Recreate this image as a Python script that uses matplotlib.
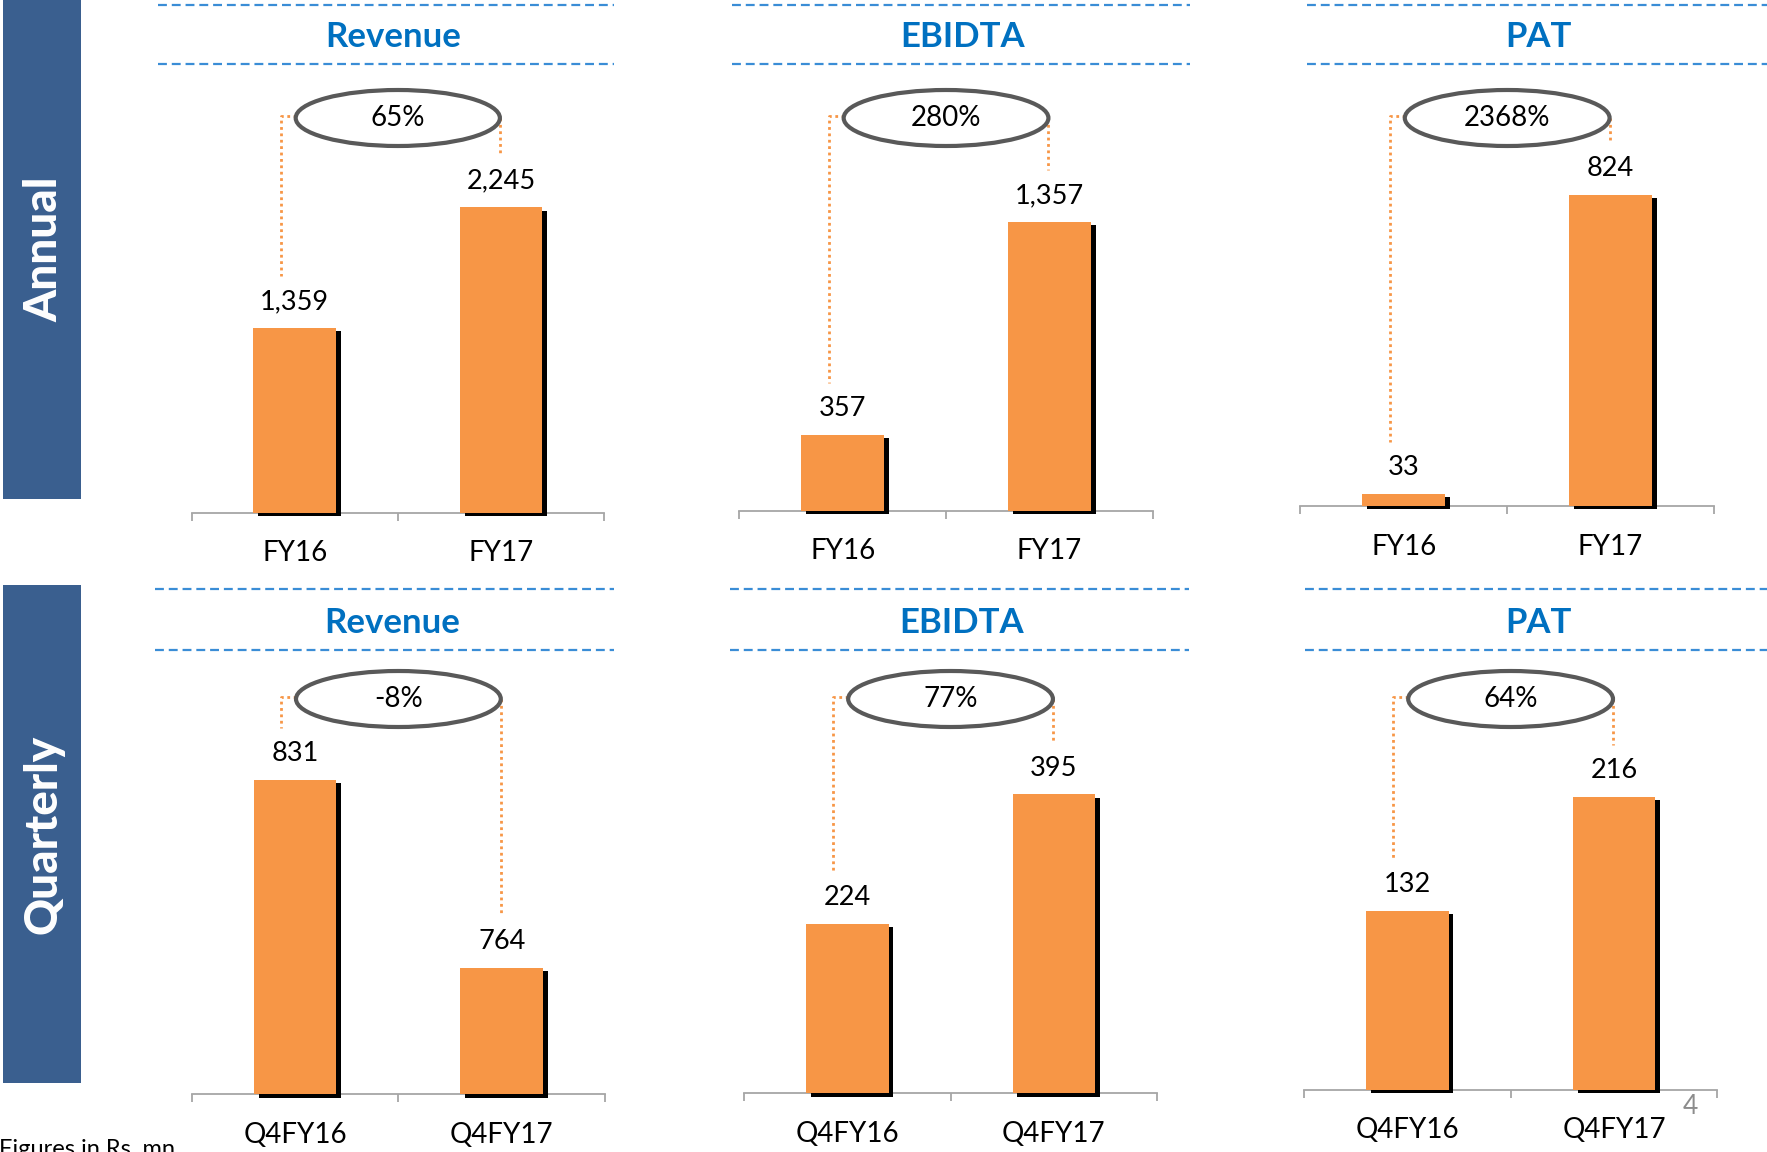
import matplotlib
matplotlib.use("Agg")
import matplotlib.pyplot as plt
import matplotlib.patheffects as pe
from matplotlib.patches import Ellipse, Rectangle
import numpy as np

plt.rcParams['font.family'] = ['Lato', 'DejaVu Sans']

# figures in Rs. mn
annual_periods = ["FY16", "FY17"]
quarter_periods = ["Q4FY16", "Q4FY17"]
metrics = ["Revenue", "EBIDTA", "PAT"]
annual_revenue = [1359, 2245]
annual_ebidta = [357, 1357]
annual_pat = [33, 824]
quarter_revenue = [831, 764]
quarter_ebidta = [224, 395]
quarter_pat = [132, 216]
annual_growth = ["65%", "280%", "2368%"]
quarter_growth = ["-8%", "77%", "64%"]

W, H = 1767, 1152
ORANGE = "#F79646"
BLUE = "#0070C0"
DASH_BLUE = "#3A8DD6"
PANEL = "#3A5F8F"
GREY = "#A6A6A6"

fig = plt.figure(figsize=(W / 100, H / 100), dpi=100)
fig.patch.set_facecolor("white")

bg = fig.add_axes([0, 0, 1, 1])
bg.set_xlim(0, W)
bg.set_ylim(H, 0)
bg.axis("off")

# side panels
for y0, y1, name in [(0, 499, "Annual"), (585, 1083, "Quarterly")]:
    bg.add_patch(Rectangle((3, y0), 78, y1 - y0, color=PANEL, lw=0))
    bg.text(44, (y0 + y1) / 2, name, rotation=90, ha="center", va="center",
            color="white", fontsize=33, fontweight="black")

# chart boxes: (axis left, axis right, baseline) in pixels, y floor, y ceiling
rows = [
    dict(periods=annual_periods, growth=annual_growth, ell_y=118,
         head=(4.5, 37, 64),
         cols=[(annual_revenue, 191.6, 604.0, 512.7, 0, 2426),
               (annual_ebidta, 739.3, 1152.8, 510.5, 0, 1552),
               (annual_pat, 1300.4, 1714.0, 506.0, 0, 874)],
         heads=[(158, 614, 393), (732, 1190, 963), (1307, 1767, 1538)]),
    dict(periods=quarter_periods, growth=quarter_growth, ell_y=699,
         head=(589, 623, 650),
         cols=[(quarter_revenue, 191.6, 605.2, 1094.2, 719, 836.6),
               (quarter_ebidta, 743.8, 1157.3, 1093.1, 0, 436.5),
               (quarter_pat, 1303.8, 1717.4, 1089.7, 0, 243.4)],
         heads=[(155, 614, 392), (730, 1189, 962), (1305, 1767, 1538)]),
]

AX_H = 330

for row in rows:
    top_y, title_y, bot_y = row["head"]
    for (hx0, hx1, tx), metric in zip(row["heads"], metrics):
        for yy in (top_y, bot_y):
            bg.plot([hx0, hx1], [yy, yy], color=DASH_BLUE, lw=1.6,
                    dashes=(4, 2.2), solid_capstyle="butt")
        bg.text(tx, title_y, metric, ha="center", va="center", color=BLUE,
                fontsize=25, fontweight="bold")

    for (vals, x0, x1, base, ymin, ymax), growth in zip(row["cols"], row["growth"]):
        ax = fig.add_axes([x0 / W, (H - base) / H, (x1 - x0) / W, AX_H / H])
        ax.patch.set_alpha(0)
        ax.set_xlim(-0.5, 1.5)
        ax.set_ylim(ymin, ymax)
        xs = np.arange(len(vals))
        ax.bar(xs, np.array(vals) - ymin, bottom=ymin, width=0.40,
               color=ORANGE, clip_on=False, zorder=3,
               path_effects=[pe.SimplePatchShadow(offset=(3.5, -2.5),
                                                  shadow_rgbFace="black",
                                                  alpha=1.0),
                             pe.Normal()])
        for x, v in zip(xs, vals):
            ax.annotate(f"{v:,}", (x, v), xytext=(0, 19),
                        textcoords="offset points", ha="center", va="center",
                        fontsize=19.5, color="black")
        for s in ("top", "left", "right"):
            ax.spines[s].set_visible(False)
        ax.spines["bottom"].set_color(GREY)
        ax.spines["bottom"].set_linewidth(1.3)
        ax.set_yticks([])
        ax.set_xticks(xs, row["periods"])
        ax.set_xticks([-0.5, 0.5, 1.5], minor=True)
        ax.tick_params(axis="x", which="major", length=0, pad=20,
                       labelsize=20)
        ax.tick_params(axis="x", which="minor", length=6, width=1.3,
                       color=GREY)

        # growth bubble and dotted leaders
        pts = [ax.transData.transform((x, v)) for x, v in zip(xs, vals)]
        cx = [p[0] for p in pts]
        tops = [H - p[1] - 52 for p in pts]
        ey = row["ell_y"]
        ex = (cx[0] + cx[1]) / 2
        ew = cx[1] - cx[0] - 2
        lx = cx[0] - 14
        bg.plot([ex - ew / 2, lx, lx], [ey - 2, ey - 2, tops[0]],
                color=ORANGE, lw=2, linestyle=(0, (1, 1.3)), zorder=1)
        bg.plot([ex + ew / 2, ex + ew / 2], [ey, tops[1]],
                color=ORANGE, lw=2, linestyle=(0, (1, 1.3)), zorder=1)
        bg.add_patch(Ellipse((ex, ey), ew, 56, facecolor="white",
                             edgecolor="#595959", lw=3, zorder=2))
        bg.text(ex, ey, growth, ha="center", va="center", fontsize=20,
                zorder=3)

bg.text(175, 1156, "Figures in Rs. mn", ha="right", va="baseline",
        fontsize=17)
bg.text(1690, 1107, "4", ha="center", va="center", fontsize=19,
        color="#8C8C8C")

fig.savefig("out.png", dpi=100)
